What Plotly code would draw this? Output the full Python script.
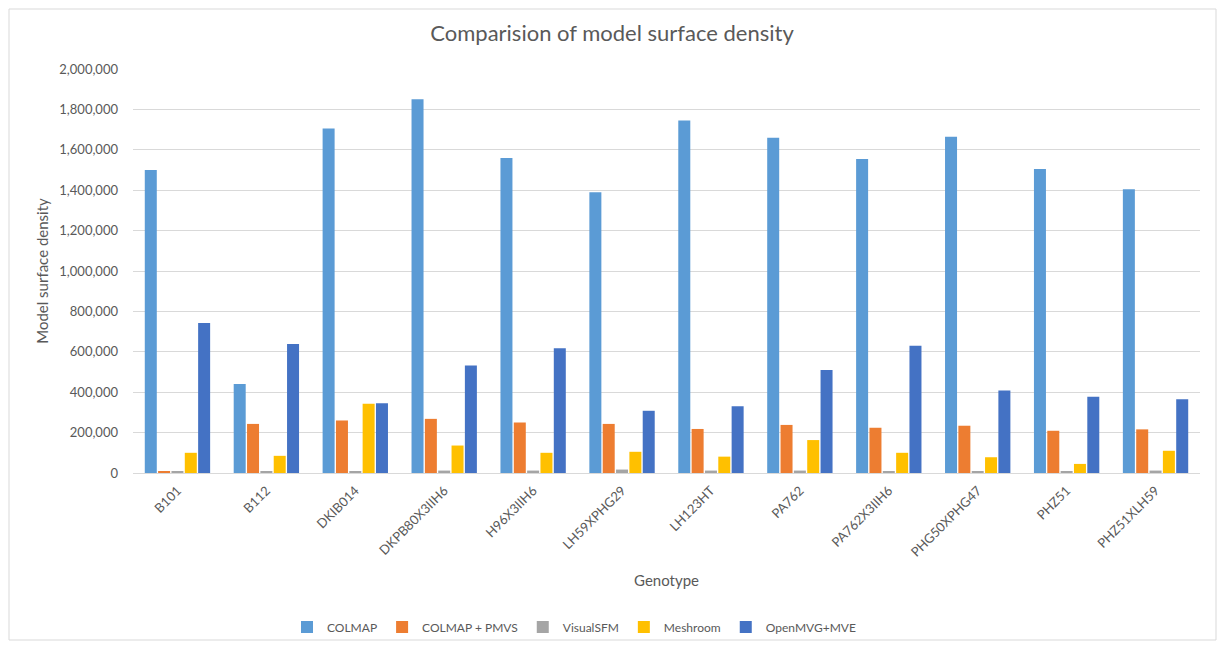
import plotly.graph_objects as go

genotypes = ["B101", "B112", "DKIB014", "DKPB80X3IIH6", "H96X3IIH6", "LH59XPHG29",
             "LH123HT", "PA762", "PA762X3IIH6", "PHG50XPHG47", "PHZ51", "PHZ51XLH59"]
colmap = [1500000, 440000, 1705000, 1850000, 1560000, 1390000, 1745000, 1660000, 1555000, 1665000, 1505000, 1405000]
colmap_pmvs = [7000, 243000, 260000, 268000, 250000, 243000, 218000, 238000, 224000, 234000, 209000, 216000]
visualsfm = [7000, 7000, 7000, 12000, 12000, 17000, 12000, 12000, 8000, 8000, 8000, 12000]
meshroom = [100000, 85000, 343000, 136000, 100000, 105000, 81000, 163000, 100000, 78000, 45000, 110000]
openmvg = [743000, 638000, 345000, 532000, 618000, 308000, 330000, 510000, 630000, 408000, 378000, 365000]

series = [
    ("COLMAP", colmap, "#5B9BD5"),
    ("COLMAP + PMVS", colmap_pmvs, "#ED7D31"),
    ("VisualSFM", visualsfm, "#A5A5A5"),
    ("Meshroom", meshroom, "#FFC000"),
    ("OpenMVG+MVE", openmvg, "#4472C4"),
]

FONT = "Lato, 'Open Sans', sans-serif"
GREY = "#595959"

# figure is placed at (8, 8) in the page by the default body margin
W, H = 1209, 634
PL, PR, PT, PB = 125, 1192, 61, 465   # plot area in figure pixels
PW, PH = PR - PL, PB - PT

fig = go.Figure()
for name, vals, col in series:
    fig.add_trace(go.Bar(name=name, x=genotypes, y=vals, marker=dict(color=col, line=dict(width=0))))

fig.update_layout(
    width=W, height=H,
    barmode="group", bargap=0.25, bargroupgap=0.1,
    plot_bgcolor="white", paper_bgcolor="white",
    margin=dict(l=PL, r=W - PR, t=PT, b=H - PB, autoexpand=False),
    font=dict(family=FONT, color=GREY, size=13),
    title=dict(text="Comparision of model surface density", x=(604 - PL) / PW, xref="paper", xanchor="center",
               y=1 - 25 / H, yanchor="middle", font=dict(size=22, color=GREY, family=FONT)),
    legend=dict(orientation="h", x=(566 - PL) / PW, xanchor="center", y=(PB - 619) / PH, yanchor="middle",
                font=dict(size=12, color=GREY), traceorder="normal", itemwidth=30,
                bgcolor="rgba(0,0,0,0)"),
    xaxis=dict(title=dict(text="Genotype", font=dict(size=15, color=GREY), standoff=16),
               automargin=False, ticklabelstandoff=4,
               tickangle=-45, showline=True, linecolor="#D9D9D9", linewidth=1,
               ticks="", tickfont=dict(size=13, color=GREY)),
    yaxis=dict(title=dict(text="Model surface density", font=dict(size=15, color=GREY), standoff=7),
               automargin=False, ticklabelstandoff=14,
               range=[0, 2000000], dtick=200000, tickformat=",", gridcolor="#D9D9D9",
               zeroline=False, showline=False, ticks="", tickfont=dict(size=13, color=GREY)),
    shapes=[dict(type="rect", xref="paper", yref="paper",
                 x0=(1 - PL) / PW, x1=(1208 - PL) / PW,
                 y0=(PB - 632) / PH, y1=(PB - 1) / PH,
                 line=dict(color="#D9D9D9", width=1), fillcolor="rgba(0,0,0,0)", layer="below")],
)

fig.write_html("out.html")
